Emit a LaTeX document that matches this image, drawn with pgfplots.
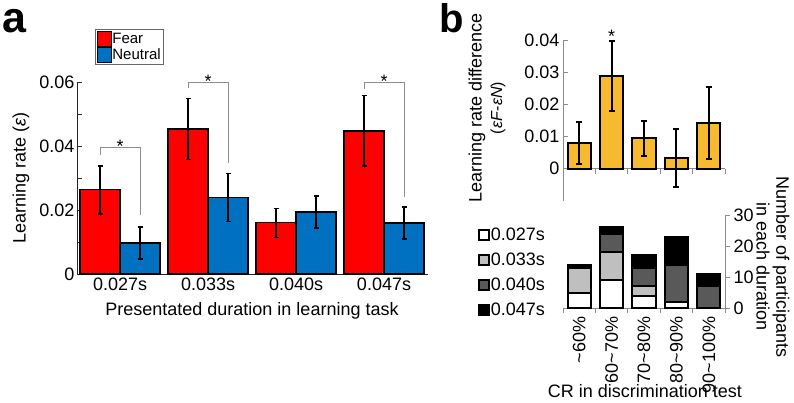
\documentclass[border=0pt]{standalone}
\usepackage{pgfplots}
\usepackage{pgfplotstable}
\pgfplotsset{compat=1.18}
\usepackage{fontspec}
\setmainfont{Liberation Sans}
\definecolor{fearred}{RGB}{255,0,0}
\definecolor{neublue}{RGB}{0,112,192}
\definecolor{gold}{RGB}{247,185,45}
\definecolor{lgray}{RGB}{191,191,191}
\definecolor{dgray}{RGB}{89,89,89}
\definecolor{axgray}{RGB}{140,140,140}
\newcommand{\ft}{\fontsize{18}{21}\selectfont}
\newcommand{\fl}{\fontsize{15}{18}\selectfont}
\newcommand{\fm}{\fontsize{16}{19}\selectfont}

% xf, xn: bar positions of the Fear / Neutral bar in each group
\pgfplotstableread{
x xf xn fear ferr neu nerr
0 -0.2273 0.2273 0.0263 0.0075 0.0097 0.0050
1 0.7727 1.2273 0.0453 0.0095 0.0240 0.0075
2 1.7727 2.2273 0.0160 0.0045 0.0194 0.0050
3 2.7727 3.2273 0.0447 0.0110 0.0159 0.0050
}\tabA
\pgfplotstableread{
x d derr
0 0.0080 0.0066
1 0.0288 0.0108
2 0.0095 0.0055
3 0.0033 0.0091
4 0.0142 0.0112
}\tabB
\pgfplotstableread{
x a b c d
0 5 8 0 1
1 9 9 6 2
2 4 3 6 4
3 2 0 12 9
4 0 0 7 4
}\tabC

\begin{document}
\begin{tikzpicture}
\useasboundingbox (0pt,0pt) rectangle (794pt,402pt);

% ---------------- panel a ----------------
\begin{axis}[
  at={(77pt,128pt)}, anchor=south west,
  width=351pt, height=192pt, scale only axis,
  xmin=-0.49, xmax=3.5, ymin=0, ymax=0.06,
  axis x line*=bottom, axis y line*=left,
  axis line style={line width=0.9pt, black!85},
  clip=false,
  scaled y ticks=false,
  tick align=inside,
  major tick length=5pt, minor tick length=5pt,
  ytick={0,0.02,0.04,0.06}, yticklabels={0,0.02,0.04,0.06},
  minor ytick={0.01,0.03,0.05},
  ytick style={line width=0.8pt, black!85},
  xtick={0,1,2,3}, xticklabels={0.027s,0.033s,0.040s,0.047s},
  xtick style={draw=none},
  tick label style={font=\ft},
  yticklabel style={xshift=1pt},
  legend style={at={(0.051,1.276)}, anchor=north west, draw=black!60,
    font=\fl, inner sep=1.5pt, row sep=0pt, nodes={inner sep=1pt}},
  legend cell align=left,
  legend image code/.code={\draw[#1] (0pt,-7pt) rectangle (14pt,8pt);},
]
\addlegendimage{fill=fearred, draw=black, line width=0.8pt}
\addlegendentry{Fear}
\addlegendimage{fill=neublue, draw=black, line width=0.8pt}
\addlegendentry{Neutral}

\addplot[ybar, bar width=0.4545, bar shift=0, fill=fearred, draw=black, line width=1.3pt,
  error bars/.cd, y dir=both, y explicit,
  error bar style={line width=1.4pt, black},
  error mark options={rotate=90, mark size=2.5pt, line width=1.4pt}]
  table[x=xf, y=fear, y error=ferr]{\tabA};
\addplot[ybar, bar width=0.4545, bar shift=0, fill=neublue, draw=black, line width=1.3pt,
  error bars/.cd, y dir=both, y explicit,
  error bar style={line width=1.4pt, black},
  error mark options={rotate=90, mark size=2.5pt, line width=1.4pt}]
  table[x=xn, y=neu, y error=nerr]{\tabA};

% significance brackets
\draw[axgray, line width=1pt] (axis cs:-0.2273,0.0372) |- (axis cs:0.2273,0.0394) -- (axis cs:0.2273,0.0184);
\node[font=\ft, anchor=base, inner sep=0pt, yshift=-5pt] at (axis cs:0,0.0394) {*};
\draw[axgray, line width=1pt] (axis cs:0.7727,0.0581) |- (axis cs:1.2273,0.0600) -- (axis cs:1.2273,0.0347);
\node[font=\ft, anchor=base, inner sep=0pt, yshift=-5pt] at (axis cs:1,0.0600) {*};
\draw[axgray, line width=1pt] (axis cs:2.7727,0.0578) |- (axis cs:3.2273,0.0600) -- (axis cs:3.2273,0.0240);
\node[font=\ft, anchor=base, inner sep=0pt, yshift=-5pt] at (axis cs:3,0.0600) {*};
\end{axis}

% ---------------- panel b (top) ----------------
\begin{axis}[
  at={(563pt,201pt)}, anchor=south west,
  width=162pt, height=161pt, scale only axis,
  xmin=-0.5, xmax=4.5, ymin=-0.01, ymax=0.04,
  axis x line=none, axis y line*=left,
  axis line style={line width=0.9pt, axgray},
  clip=false,
  scaled y ticks=false,
  tick align=inside, major tick length=5pt,
  ytick={0,0.01,0.02,0.03,0.04}, yticklabels={0,0.01,0.02,0.03,0.04},
  ytick style={line width=0.8pt, axgray},
  tick label style={font=\ft},
]
\draw[axgray, line width=0.9pt] (axis cs:-0.5,0) -- (axis cs:4.5,0);
\pgfplotsinvokeforeach{-0.5,0.5,1.5,2.5,3.5,4.5}{
  \draw[axgray, line width=0.8pt] (axis cs:#1,0) -- ++(0pt,-5pt);
}
\addplot[ybar, bar width=0.72, bar shift=0, fill=gold, draw=black, line width=2pt,
  error bars/.cd, y dir=both, y explicit,
  error bar style={line width=2pt, black},
  error mark options={rotate=90, mark size=3pt, line width=2pt}]
  table[x=x, y=d, y error=derr]{\tabB};
\node[font=\ft, anchor=base, inner sep=0pt, yshift=-1pt] at (axis cs:1,0.0396) {*};
\end{axis}

% ---------------- panel b (bottom) ----------------
\begin{axis}[
  at={(563pt,94pt)}, anchor=south west,
  width=162pt, height=93pt, scale only axis,
  xmin=-0.5, xmax=4.5, ymin=0, ymax=30,
  ybar stacked, bar width=0.72,
  axis x line*=bottom, axis y line*=right,
  axis line style={line width=0.9pt, axgray},
  clip=false,
  tick align=outside, major tick length=5pt,
  ytick={0,10,20,30}, yticklabels={0,10,20,30},
  ytick style={line width=0.8pt, axgray},
  xtick={0,1,2,3,4}, xticklabels={\textasciitilde60\%,60\textasciitilde70\%,70\textasciitilde80\%,80\textasciitilde90\%,90\textasciitilde100\%},
  xtick style={draw=none},
  xticklabel style={rotate=90, anchor=east},
  tick label style={font=\ft},
  legend style={at={(-0.525,0.915)}, anchor=north west, draw=none, fill=none,
    font=\ft, inner sep=0pt, nodes={inner sep=1pt, text height=16pt, text depth=7pt}},
  legend cell align=left,
  legend image code/.code={\draw[#1, line width=1.7pt] (0pt,-4.5pt) rectangle (10pt,5.5pt);},
]
\pgfplotsinvokeforeach{-0.5,0.5,1.5,2.5,3.5,4.5}{
  \draw[axgray, line width=0.8pt] (axis cs:#1,0) -- ++(0pt,-5pt);
}
\addplot[fill=white, draw=black, line width=2pt] table[x=x, y=a]{\tabC};
\addlegendentry{0.027s}
\addplot[fill=lgray, draw=black, line width=2pt] table[x=x, y=b]{\tabC};
\addlegendentry{0.033s}
\addplot[fill=dgray, draw=black, line width=2pt] table[x=x, y=c]{\tabC};
\addlegendentry{0.040s}
\addplot[fill=black, draw=black, line width=2pt] table[x=x, y=d]{\tabC};
\addlegendentry{0.047s}
\end{axis}

% ---------------- labels ----------------
\node[anchor=base west, inner sep=0pt, font=\bfseries\fontsize{43}{43}\selectfont] at (2pt,369pt) {a};
\node[anchor=base west, inner sep=0pt, font=\bfseries\fontsize{40}{40}\selectfont] at (439pt,369pt) {b};
\node[rotate=90, font=\ft] at (21pt,224pt) {Learning rate (\textit{ε})};
\node[font=\ft] at (252pt,91pt) {Presentated duration in learning task};
\node[rotate=90, font=\ft] at (477pt,294pt) {Learning rate difference};
\node[rotate=90, font=\fm] at (498pt,294pt) {(\textit{εF}-\textit{εN})};
\node[rotate=-90, font=\ft] at (781pt,135pt) {Number of participants};
\node[rotate=-90, font=\ft] at (763pt,135pt) {in each duration};
\node[font=\ft] at (645pt,11pt) {CR in discrimination test};
\end{tikzpicture}
\end{document}
